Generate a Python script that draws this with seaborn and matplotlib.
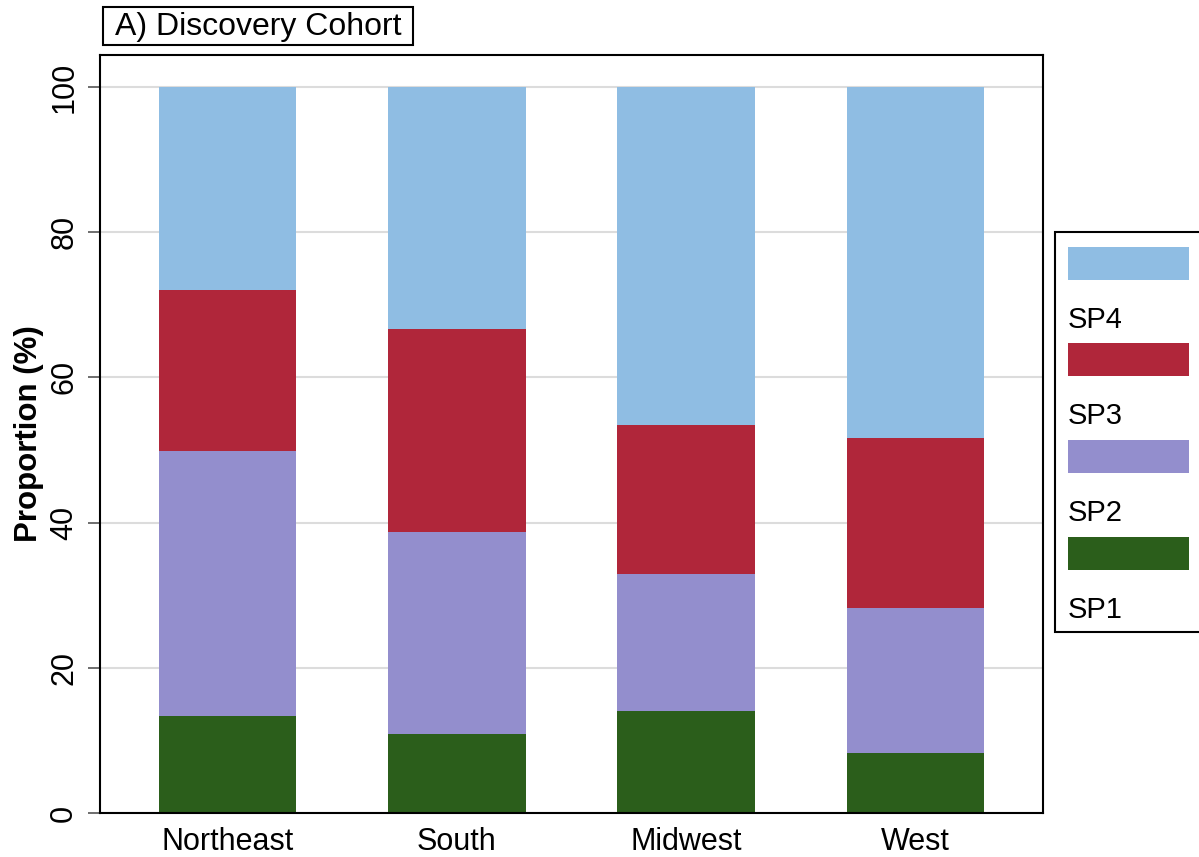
import numpy as np
import pandas as pd
import matplotlib
matplotlib.use("Agg")
import matplotlib.pyplot as plt
from matplotlib.patches import Rectangle
import seaborn as sns

# Regional distribution of subphenotypes (percent of each region)
regions = ["Northeast", "South", "Midwest", "West"]
subtypes = ["SP1", "SP2", "SP3", "SP4"]
sp1 = [13.3, 10.9, 14.0, 8.2]
sp2 = [36.5, 27.8, 18.9, 20.0]
sp3 = [22.3, 28.0, 20.6, 23.4]
sp4 = [27.9, 33.3, 46.5, 48.4]
colors = {"SP1": "#2b5e1b", "SP2": "#938ecd", "SP3": "#b0263a", "SP4": "#8fbde3"}
title = "A) Discovery Cohort"
y_label = "Proportion (%)"
y_ticks = [0, 20, 40, 60, 80, 100]

df = pd.DataFrame({"region": regions, "SP1": sp1, "SP2": sp2, "SP3": sp3, "SP4": sp4})
cum = df[subtypes].cumsum(axis=1)
cum["region"] = df["region"]

sns.set_theme(style="white")
plt.rcParams["font.family"] = ["Liberation Sans", "DejaVu Sans"]
plt.rcParams["text.color"] = "black"
plt.rcParams["axes.labelcolor"] = "black"
plt.rcParams["xtick.color"] = "black"
plt.rcParams["ytick.color"] = "black"

fig = plt.figure(figsize=(11.99, 8.57), dpi=100)
ax = fig.add_axes([100 / 1199, 1 - 813 / 857, 943 / 1199, 758 / 857])

# Stacked bars: draw cumulative totals from the top layer down
for sp in reversed(subtypes):
    sns.barplot(data=cum, x="region", y=sp, order=regions, color=colors[sp],
                width=0.6, saturation=1, edgecolor="none", linewidth=0,
                ax=ax, zorder=2)

ax.set_xlim(-0.555, 3.555)
ax.set_ylim(0, 104.4)
ax.set_yticks(y_ticks)
ax.yaxis.grid(True, color="#dcdcdc", linewidth=1.5, zorder=0)
ax.set_axisbelow(True)
ax.set_xlabel("")
ax.set_ylabel(y_label, fontsize=22.5, fontweight="bold", labelpad=4)
ax.tick_params(axis="y", direction="out", length=9, width=1.2, color="#555555",
               labelcolor="black", labelsize=22, left=True, pad=6)
ax.tick_params(axis="x", length=0, labelsize=22, labelcolor="black", pad=10)
for lab in ax.get_yticklabels():
    lab.set_rotation(90)
    lab.set_va("center")
for s in ax.spines.values():
    s.set_visible(True)
    s.set_color("black")
    s.set_linewidth(1.5)

# Title box above the plot area
fig.patches.append(Rectangle((103 / 1199, 1 - 45 / 857), 310 / 1199, 38 / 857,
                             transform=fig.transFigure, facecolor="white",
                             edgecolor="black", linewidth=1.5))
fig.text(258 / 1199, 1 - 27 / 857, title, fontsize=23, ha="center", va="center")

# Key on the right: swatch rows with labels beneath
fig.patches.append(Rectangle((1055 / 1199, 1 - 632 / 857), 150 / 1199, 400 / 857,
                             transform=fig.transFigure, facecolor="white",
                             edgecolor="black", linewidth=1.5))
swatch_top = [247, 343, 440, 537]
for sp, top in zip(reversed(subtypes), swatch_top):
    fig.patches.append(Rectangle((1068 / 1199, 1 - (top + 33) / 857), 121 / 1199, 33 / 857,
                                 transform=fig.transFigure, facecolor=colors[sp],
                                 edgecolor="none"))
    fig.text(1068 / 1199, 1 - (top + 73) / 857, sp, fontsize=21, ha="left", va="center")

fig.savefig("out.png", dpi=100)
